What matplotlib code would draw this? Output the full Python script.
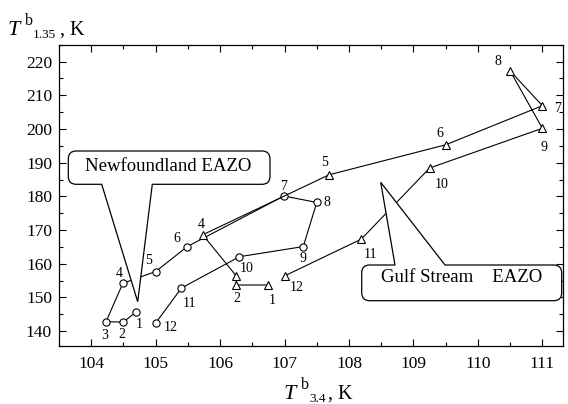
import matplotlib
matplotlib.use('Agg')
import matplotlib.pyplot as plt
from matplotlib.patches import PathPatch
from matplotlib.path import Path
from matplotlib.transforms import Affine2D
from matplotlib.ticker import MultipleLocator

plt.rcParams['font.family'] = ['Liberation Serif', 'DejaVu Serif']

# ---- data ----
months = ['1', '2', '3', '4', '5', '6', '7', '8', '9', '10', '11', '12']
nf_x = [104.70, 104.50, 104.23, 104.49, 105.00, 105.49, 106.99, 107.50, 107.29, 106.30, 105.40, 105.00]
nf_y = [145.8, 142.7, 142.8, 154.2, 157.7, 165.1, 180.1, 178.2, 165.1, 162.1, 152.8, 142.4]
gs_x = [106.74, 106.25, 106.25, 105.73, 107.69, 109.50, 111.00, 110.50, 111.00, 109.25, 108.19, 107.00]
gs_y = [153.7, 153.7, 156.4, 168.6, 186.4, 195.3, 206.9, 217.2, 200.2, 188.4, 167.3, 156.4]
nf_label = 'Newfoundland EAZO'
gs_label = 'Gulf Stream    EAZO'
x_ticks = [104, 105, 106, 107, 108, 109, 110, 111]
y_ticks = [140, 150, 160, 170, 180, 190, 200, 210, 220]

# label offsets in pixels (dx right, dy down)
nf_off = [(3, 13), (-2, 12), (-1, 14), (-4, -10), (-7, -11), (-10, -8),
          (0, -10), (10, 0), (0, 12), (7, 12), (8, 15), (15, 4)]
gs_off = [(4, 16), (1, 14), None, (-1, -10), (-4, -12), (-6, -11),
          (15, 3), (-12, -9), (2, 19), (12, 16), (9, 15), (12, 12)]

W, H = 568, 404
fig = plt.figure(figsize=(W / 100, H / 100), dpi=100)
ax = fig.add_axes([59 / W, 1 - 346 / H, (563 - 59) / W, (346 - 44.7) / H])

ax.plot(nf_x, nf_y, color='black', lw=0.8, marker='o', ms=5.2,
        mfc='white', mec='black', mew=0.8, zorder=3)
ax.plot(gs_x, gs_y, color='black', lw=0.8, marker='^', ms=6,
        mfc='white', mec='black', mew=0.8, zorder=3)

for xs, ys, offs in ((nf_x, nf_y, nf_off), (gs_x, gs_y, gs_off)):
    for m, x, y, o in zip(months, xs, ys, offs):
        if o is None:
            continue
        ax.annotate(m, (x, y), xytext=(o[0], -o[1]), textcoords='offset pixels',
                    ha='center', va='center', fontsize=10, zorder=6)

ax.set_xlim(103.5, 111.32)
ax.set_ylim(135.6, 225.0)
ax.set_xticks(x_ticks)
ax.set_yticks(y_ticks)
ax.xaxis.set_minor_locator(MultipleLocator(0.5))
ax.yaxis.set_minor_locator(MultipleLocator(5))
ax.tick_params(which='both', direction='in', top=True, right=True,
               labelsize=12.5, width=0.8)
ax.tick_params(which='major', length=5)
ax.tick_params(which='minor', length=3)
ax.tick_params(axis='x', pad=7)
ax.tick_params(axis='y', pad=5)
for s in ax.spines.values():
    s.set_linewidth(0.9)

# pixel transform (reference image coords, origin top-left)
pix = Affine2D().scale(1 / W, -1 / H).translate(0, 1) + fig.transFigure


def callout(x0, y0, x1, y1, r, bx0, bx1, tip, side):
    V, C = [], []

    def mv(p):
        V.append(p); C.append(Path.MOVETO)

    def ln(p):
        V.append(p); C.append(Path.LINETO)

    def cv(c, p):
        V.extend([c, p]); C.extend([Path.CURVE3, Path.CURVE3])

    mv((x0 + r, y0))
    if side == 'top':
        ln((bx0, y0)); ln(tip); ln((bx1, y0))
    ln((x1 - r, y0)); cv((x1, y0), (x1, y0 + r))
    ln((x1, y1 - r)); cv((x1, y1), (x1 - r, y1))
    if side == 'bottom':
        ln((bx1, y1)); ln(tip); ln((bx0, y1))
    ln((x0 + r, y1)); cv((x0, y1), (x0, y1 - r))
    ln((x0, y0 + r)); cv((x0, y0), (x0 + r, y0))
    V.append((x0 + r, y0)); C.append(Path.CLOSEPOLY)
    p = PathPatch(Path(V, C), facecolor='white', edgecolor='black', lw=0.9,
                  transform=pix, zorder=5, clip_on=False)
    fig.add_artist(p)


callout(68.3, 151, 270, 184.3, 8, 101.7, 152.3, (137.7, 301.7), 'bottom')
callout(361.7, 265, 561.7, 300.7, 8, 395, 445, (380.7, 182.3), 'top')

fig.text(168.3 / W, 1 - 170.5 / H, nf_label, ha='center', va='baseline',
         fontsize=13.5, zorder=7)
fig.text(461.5 / W, 1 - 282.5 / H, gs_label, ha='center', va='baseline',
         fontsize=13.5, zorder=7)


def axis_label(x0, base, sub):
    # T (italic), superscript b, subscript index, ", K"
    fig.text(x0 / W, 1 - base / H, 'T', style='italic', fontsize=16,
             ha='left', va='baseline')
    fig.text((x0 + 17) / W, 1 - (base - 10) / H, 'b', fontsize=11.5,
             ha='left', va='baseline')
    fig.text((x0 + 25) / W, 1 - (base + 3) / H, sub, fontsize=9.5,
             ha='left', va='baseline')
    fig.text((x0 + 25 + 7.5 * len(sub) - 3) / W, 1 - base / H, ', K',
             fontsize=14.5, ha='left', va='baseline')


axis_label(8, 35, '1.35')
axis_label(284, 399, '3.4')

fig.savefig('out.png', dpi=100)
